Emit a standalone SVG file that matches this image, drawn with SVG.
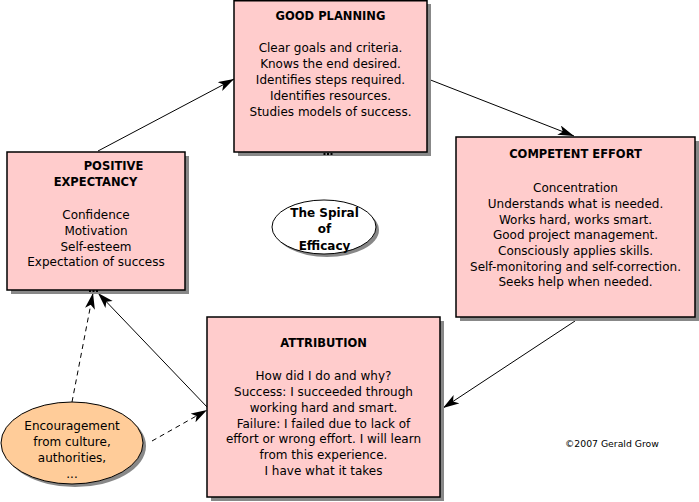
<svg xmlns="http://www.w3.org/2000/svg" width="699" height="502" viewBox="0 0 699 502">
<style>
.box{fill:#ffcccc;stroke:#000;stroke-width:1.5}
.sh{fill:#888}
.t{font-family:"DejaVu Sans",Verdana,sans-serif;font-size:12px;fill:#000;text-anchor:middle}
.b{font-family:"DejaVu Sans",Verdana,sans-serif;font-size:11.5px;font-weight:bold;fill:#000;text-anchor:middle}
.c{fill:none;stroke:#000;stroke-width:1}
.d{stroke-dasharray:5,4}
.dot{fill:#000}
</style>
<defs>
<marker id="ah" markerUnits="userSpaceOnUse" markerWidth="18" markerHeight="12" refX="16" refY="5" orient="auto">
<path d="M0,0 L16,5 L0,10 L4,5 z" fill="#000"/>
</marker>
</defs>
<rect width="699" height="502" fill="#fff"/>
<g id="connectors">
<line class="c" x1="98" y1="151" x2="234" y2="79" marker-end="url(#ah)"/>
<line class="c" x1="428" y1="79" x2="574" y2="136" marker-end="url(#ah)"/>
<line class="c" x1="575" y1="321" x2="443" y2="408" marker-end="url(#ah)"/>
<line class="c" x1="208" y1="408" x2="98" y2="293" marker-end="url(#ah)"/>
<line class="c d" x1="72" y1="402" x2="93" y2="293" marker-end="url(#ah)"/>
<line class="c d" x1="152" y1="441" x2="207" y2="410" marker-end="url(#ah)"/>
</g>
<g id="good-planning">
<rect class="sh" x="238" y="4" width="193" height="152"/>
<rect class="box" x="234" y="0.75" width="193" height="151.25"/>
<text class="b" x="330.5" y="20">GOOD PLANNING</text>
<text class="t" x="330.5" y="52">Clear goals and criteria.</text>
<text class="t" x="330.5" y="68">Knows the end desired.</text>
<text class="t" x="330.5" y="84">Identifies steps required.</text>
<text class="t" x="330.5" y="100">Identifies resources.</text>
<text class="t" x="330.5" y="116">Studies models of success.</text>
<rect class="dot" x="323.5" y="153" width="2" height="2"/>
<rect class="dot" x="327" y="153" width="2" height="2"/>
<rect class="dot" x="330.5" y="153" width="2" height="2"/>
</g>
<g id="positive-expectancy">
<rect class="sh" x="11" y="156" width="178" height="138"/>
<rect class="box" x="7" y="152" width="178" height="138"/>
<text class="b" x="113.5" y="170">POSITIVE</text>
<text class="b" x="95.5" y="186">EXPECTANCY</text>
<text class="t" x="96" y="219">Confidence</text>
<text class="t" x="96" y="235">Motivation</text>
<text class="t" x="96" y="250.5">Self-esteem</text>
<text class="t" x="96" y="266">Expectation of success</text>
<rect class="dot" x="89" y="290" width="2" height="2"/>
<rect class="dot" x="92.5" y="290" width="2" height="2"/>
<rect class="dot" x="96" y="290" width="2" height="2"/>
</g>
<g id="competent-effort">
<rect class="sh" x="460" y="141" width="239" height="180"/>
<rect class="box" x="456" y="137" width="239" height="180"/>
<text class="b" x="575.5" y="158">COMPETENT EFFORT</text>
<text class="t" x="575.5" y="192">Concentration</text>
<text class="t" x="575.5" y="208">Understands what is needed.</text>
<text class="t" x="575.5" y="223.5">Works hard, works smart.</text>
<text class="t" x="575.5" y="239">Good project management.</text>
<text class="t" x="575.5" y="255">Consciously applies skills.</text>
<text class="t" x="575.5" y="270.5">Self-monitoring and self-correction.</text>
<text class="t" x="575.5" y="286">Seeks help when needed.</text>
</g>
<g id="attribution">
<rect class="sh" x="211" y="321" width="233" height="180"/>
<rect class="box" x="207" y="317" width="233" height="180"/>
<text class="b" x="323.5" y="347">ATTRIBUTION</text>
<text class="t" x="323.5" y="380">How did I do and why?</text>
<text class="t" x="323.5" y="396">Success: I succeeded through</text>
<text class="t" x="323.5" y="412">working hard and smart.</text>
<text class="t" x="323.5" y="427.5">Failure: I failed due to lack of</text>
<text class="t" x="323.5" y="443">effort or wrong effort. I will learn</text>
<text class="t" x="323.5" y="459">from this experience.</text>
<text class="t" x="323.5" y="475">I have what it takes</text>
</g>
<g id="spiral">
<ellipse class="sh" cx="327" cy="230" rx="52" ry="27"/>
<ellipse cx="324" cy="227" rx="52" ry="27" fill="#fff" stroke="#000" stroke-width="1"/>
<text class="b" x="324.5" y="216.5" style="font-size:12px">The Spiral</text>
<text class="b" x="324.5" y="233" style="font-size:12px">of</text>
<text class="b" x="324.5" y="249.5" style="font-size:12px">Efficacy</text>
</g>
<g id="encouragement">
<ellipse class="sh" cx="75" cy="446" rx="71" ry="41"/>
<ellipse cx="72" cy="443" rx="71" ry="41" fill="#ffcc99" stroke="#000" stroke-width="1"/>
<text class="t" x="72" y="430">Encouragement</text>
<text class="t" x="72" y="446">from culture,</text>
<text class="t" x="72" y="462">authorities,</text>
<text class="t" x="72" y="478">...</text>
</g>
<g id="credit">
<text x="565" y="447" style="font-family:'DejaVu Sans',Verdana,sans-serif;font-size:9.3px;fill:#000">©2007 Gerald Grow</text>
</g>
</svg>
